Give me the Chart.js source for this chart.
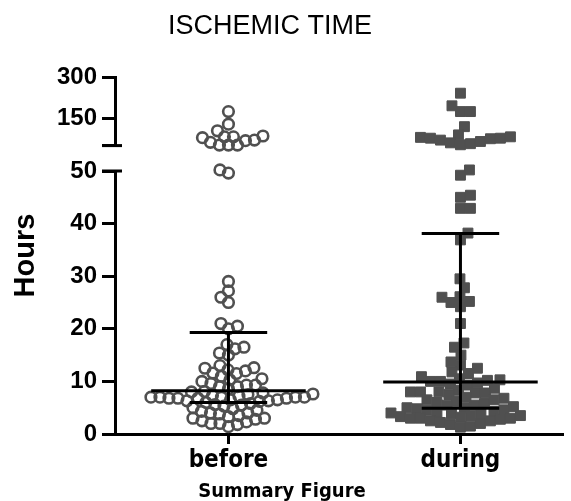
<!DOCTYPE html>
<html>
<head>
<meta charset="utf-8">
<script src="https://cdn.jsdelivr.net/npm/chart.js@4.4.1/dist/chart.umd.min.js"></script>
<style>
  html, body { margin: 0; padding: 0; background: #fff; }
  #c { display: block; }
</style>
</head>
<body>
<canvas id="c" width="571" height="501"></canvas>
<script>
// ---------------- data ----------------
const categories = ['before', 'during'];
const titleText = 'ISCHEMIC TIME';
const yTitle = 'Hours';
const footText = 'Summary Figure';

const beforeHours = [
  174, 128, 104, 85, 82, 82, 79, 70, 68, 62, 52, 52, 52,
  50.2, 49.6, 29.0, 27.2, 26.0, 25.0, 21.0, 20.5, 20.0,
  17.0, 16.5, 16.2, 15.4, 15.0,
  13.0, 12.6, 12.5, 12.2, 12.0, 11.6, 11.5, 11.0, 10.5, 10.3, 10.0, 9.6, 9.3, 9.3, 9.0, 9.0, 8.6,
  8.1, 8.0, 7.8, 7.6, 7.5, 7.3, 7.2, 7.0, 7.0, 7.0, 7.0, 7.0, 6.8, 6.8, 6.8, 6.8, 6.5, 6.5, 6.3, 6.3, 6.2, 6.0,
  5.8, 5.6, 5.5, 5.3, 5.0, 4.8, 4.5, 4.3, 4.0, 4.0, 3.8, 3.5, 3.3, 3.0, 3.0, 2.8, 2.5, 2.3, 2.0, 2.0, 1.8, 1.4
];
const duringHours = [
  241, 195, 174, 174, 119, 89, 82, 80, 77, 77, 75, 70, 65, 60, 57, 53,
  50.2, 49.2, 45.4, 45.0, 42.9, 42.9, 38.2,
  36.9, 29.5, 27.8, 26.1, 26.0, 25.2, 25.0, 24.2, 21.0, 17.3, 16.5, 15.0, 13.7, 13.1, 12.5, 11.8, 11.5, 10.9, 10.5, 10.3, 10.2, 10.0, 10.0,
  9.7, 9.5, 9.3, 8.7, 8.3, 8.0, 8.0, 8.0, 7.8, 7.8, 7.5, 7.0, 6.8, 6.5, 6.5, 6.2, 6.0, 5.8, 5.5, 5.5, 5.2, 5.0, 5.0,
  4.8, 4.6, 4.5, 4.3, 4.0, 4.0, 3.9, 3.8, 3.5, 3.5, 3.3, 3.2, 3.0, 3.0, 3.0, 2.8, 2.5, 2.5, 2.2, 2.0, 1.8, 1.5, 1.3
];
const medians = [8.2, 9.9];
const q1 = [6.0, 4.9];
const q3 = [19.3, 38.1];

const lowTicks = [0, 10, 20, 30, 40, 50];
const highTicks = [50, 150, 300];
const lowRange = [0, 50];
const highRange = [50, 300];
const breakValue = 50;
const splitValue = 51;   // values above go on the upper segment

// ---------------- styling ----------------
const markGray = '#505050';
const swarmDist = [9, 10];
const medianHalf = 0.333;
const quartHalf = 0.167;

function pts(values, idx, upper) {
  return values.filter(v => upper ? v > splitValue : v <= splitValue).map(v => ({ x: idx + 1, y: v }));
}

const circleStyle = { pointStyle: 'circle', pointRadius: 5.3, pointBorderWidth: 2.6,
  pointBorderColor: markGray, pointBackgroundColor: 'rgba(0,0,0,0)', showLine: false, order: 2, clip: false };
const squareStyle = { pointStyle: 'rect', pointRadius: 7, pointBorderWidth: 1,
  pointBorderColor: markGray, pointBackgroundColor: markGray, showLine: false, order: 2, clip: false };

const datasets = [
  Object.assign({ label: 'before-low', data: pts(beforeHours, 0, false), yAxisID: 'yLow', _g: 0 }, circleStyle),
  Object.assign({ label: 'before-high', data: pts(beforeHours, 0, true), yAxisID: 'yHigh', _g: 0 }, circleStyle),
  Object.assign({ label: 'during-low', data: pts(duringHours, 1, false), yAxisID: 'yLow', _g: 1 }, squareStyle),
  Object.assign({ label: 'during-high', data: pts(duringHours, 1, true), yAxisID: 'yHigh', _g: 1 }, squareStyle)
];

function seg(x1, y1, x2, y2) {
  return { data: [{ x: x1, y: y1 }, { x: x2, y: y2 }], yAxisID: 'yLow', showLine: true,
    borderColor: '#000', borderWidth: 3, pointRadius: 0, order: 0, clip: false, borderCapStyle: 'butt' };
}
categories.forEach((c, i) => {
  const cx = i + 1;
  datasets.push(seg(cx - medianHalf, medians[i], cx + medianHalf, medians[i]));
  datasets.push(seg(cx - quartHalf, q1[i], cx + quartHalf, q1[i]));
  datasets.push(seg(cx - quartHalf, q3[i], cx + quartHalf, q3[i]));
  datasets.push(seg(cx, q1[i], cx, q3[i]));
});

const tickFont = { family: '"Liberation Sans", Arial, sans-serif', weight: 'bold', size: 24 };
const yAxisCommon = {
  type: 'linear', position: 'left', stack: 'y',
  grid: { display: true, drawOnChartArea: false, drawTicks: true, tickLength: 13, tickWidth: 3, tickColor: '#000' },
  border: { display: true, color: '#000', width: 3 },
  afterFit: s => { s.width = 115; }
};

const breakPlugin = {
  id: 'breakMarks',
  afterDraw(chart) {
    const ctx = chart.ctx;
    const left = chart.chartArea.left;
    ctx.save();
    ctx.strokeStyle = '#000';
    ctx.lineWidth = 3;
    ['yHigh', 'yLow'].forEach(id => {
      const y = chart.scales[id].getPixelForValue(breakValue);
      ctx.beginPath();
      ctx.moveTo(left - 13, y);
      ctx.lineTo(left + 7, y);
      ctx.stroke();
    });
    // texts
    ctx.fillStyle = '#000';
    ctx.textAlign = 'center';
    ctx.textBaseline = 'middle';
    ctx.font = '27px "Liberation Sans", Arial, sans-serif';
    ctx.fillText(titleText, 270, 27);
    ctx.font = 'bold 29px "Liberation Sans", Arial, sans-serif';
    ctx.save();
    ctx.translate(26, (chart.chartArea.top + chart.chartArea.bottom) / 2);
    ctx.rotate(-Math.PI / 2);
    ctx.fillText(yTitle, 0, 0);
    ctx.restore();
    ctx.textBaseline = 'alphabetic';
    ctx.font = 'bold 20px "DejaVu Sans Condensed", "DejaVu Sans", sans-serif';
    ctx.fillText(footText, 282, 497);
    ctx.restore();
  }
};

const chart = new Chart(document.getElementById('c'), {
  type: 'scatter',
  data: { datasets },
  options: {
    responsive: false,
    animation: false,
    devicePixelRatio: 1,
    layout: { padding: { left: 0, right: 4, top: 77, bottom: 27 } },
    plugins: { legend: { display: false }, tooltip: { enabled: false }, title: { display: false } },
    scales: {
      x: {
        type: 'linear', position: 'bottom', min: 0.511, max: 2.442,
        afterBuildTicks: s => { s.ticks = categories.map((c, i) => ({ value: i + 1 })); },
        ticks: { callback: v => categories[Math.round(v) - 1] || '', autoSkip: false, maxRotation: 0,
          color: '#000', padding: 2,
          font: { family: '"DejaVu Sans Condensed", "DejaVu Sans", sans-serif', weight: 'bold', size: 24 } },
        grid: { display: true, drawOnChartArea: false, drawTicks: true, tickLength: 10, tickWidth: 3, tickColor: '#000' },
        border: { display: true, color: '#000', width: 3 },
        afterFit: s => { s.height = 40; }
      },
      yLow: Object.assign({}, yAxisCommon, {
        stackWeight: 263, min: lowRange[0], max: lowRange[1],
        afterBuildTicks: s => { s.ticks = lowTicks.map(v => ({ value: v })); },
        ticks: { autoSkip: false, color: '#000', padding: 5, font: tickFont, callback: v => String(v) }
      }),
      yGap: {
        type: 'linear', position: 'left', stack: 'y', stackWeight: 25.4,
        ticks: { display: false }, grid: { display: false }, border: { display: false },
        afterFit: s => { s.width = 115; }
      },
      yHigh: Object.assign({}, yAxisCommon, {
        stackWeight: 68.6, min: highRange[0], max: highRange[1],
        afterBuildTicks: s => { s.ticks = highTicks.map(v => ({ value: v })); },
        ticks: { autoSkip: false, color: '#000', padding: 5, font: tickFont,
          callback: v => (v === breakValue ? '' : String(v)) }
      })
    }
  },
  plugins: [breakPlugin]
});

// beeswarm spread computed from the values through the chart's scales
function layoutSwarm(ch) {
  const xs = ch.scales.x;
  categories.forEach((c, gi) => {
    const cPx = xs.getPixelForValue(gi + 1);
    const d = swarmDist[gi];
    const items = [];
    ch.data.datasets.forEach(ds => {
      if (ds._g !== gi) return;
      const ys = ch.scales[ds.yAxisID];
      ds.data.forEach(p => items.push({ p, py: ys.getPixelForValue(p.y) }));
    });
    items.sort((a, b) => b.py - a.py);
    const placed = [];
    let flip = false;
    items.forEach(it => {
      const ok = off => placed.every(q => {
        const dx = off - q.off, dy = it.py - q.py;
        return dx * dx + dy * dy >= d * d;
      });
      let chosen = 0;
      for (let s = 0; s < 300; s += 0.5) {
        const a = flip ? s : -s, b = -a;
        if (ok(a)) { chosen = a; break; }
        if (ok(b)) { chosen = b; break; }
      }
      flip = !flip;
      placed.push({ off: chosen, py: it.py });
      it.p.x = xs.getValueForPixel(cPx + chosen);
    });
  });
  ch.update('none');
}
layoutSwarm(chart);
</script>
</body>
</html>
